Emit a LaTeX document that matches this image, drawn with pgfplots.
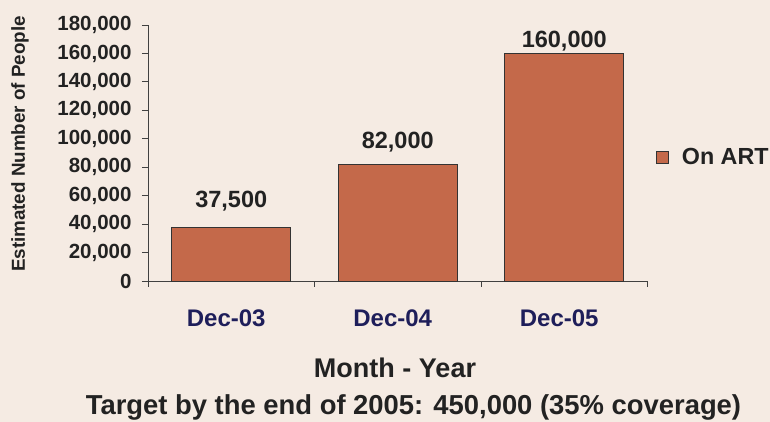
\documentclass[border=0pt]{standalone}
\usepackage{pgfplots}
\pgfplotsset{compat=1.18}
\usepackage{fontspec}
\setmainfont{Liberation Sans}
\definecolor{bgc}{HTML}{F5EBE3}
\definecolor{barc}{HTML}{C4694A}
\definecolor{navyc}{HTML}{1E1E5A}
\definecolor{txtc}{HTML}{222222}
\begin{document}
\begin{tikzpicture}
\fill[bgc] (-148pt,-141pt) rectangle (622pt,281pt);
\path[use as bounding box] (-148pt,-141pt) rectangle (622pt,281pt);
\begin{axis}[
  at={(0,0)}, anchor=south west,
  scale only axis, width=499.5pt, height=256pt,
  xmin=-0.5, xmax=2.5, ymin=0, ymax=180000,
  axis x line=bottom, axis y line=left,
  axis line style={-, draw=black!75, line width=0.8pt},
  xtick={0,1,2}, xticklabels={Dec-03,Dec-04,Dec-05},
  major x tick style={draw=none},
  minor xtick={-0.5,0.5,1.5,2.5},
  minor tick length=6pt,
  tick align=outside,
  major tick length=6pt,
  tick style={draw=black!75, line width=0.8pt},
  ytick={0,20000,...,180000},
  scaled y ticks=false,
  yticklabels={0,{20,000},{40,000},{60,000},{80,000},{100,000},{120,000},{140,000},{160,000},{180,000}},
  yticklabel style={font=\fontsize{20.5}{24}\selectfont\bfseries, text=txtc, xshift=-7pt},
  xticklabel style={font=\fontsize{24}{28}\selectfont\bfseries, text=navyc, yshift=-19pt, xshift=-5pt},
  ybar, bar width=119pt, bar shift=0pt,
  point meta=explicit symbolic,
  nodes near coords,
  nodes near coords style={font=\fontsize{23.5}{28}\selectfont\bfseries, text=txtc, anchor=center},
  legend style={at={(1.017,0.484)}, anchor=west, draw=none, fill=none, inner sep=0pt, font=\fontsize{23.3}{28}\selectfont\bfseries, text=txtc},
  legend image code/.code={\draw[fill=barc, draw=black!80, line width=0.7pt] (0pt,-6pt) rectangle (12pt,6pt); \path (23pt,0pt);},
  clip=false,
]
\addplot[fill=barc, draw=black!80, line width=0.7pt, nodes near coords style={yshift=27pt}] coordinates {(0,37500) [{37,500}]};
\addlegendentry{On ART}
\addplot[fill=barc, draw=black!80, line width=0.7pt, nodes near coords style={yshift=22pt}, forget plot] coordinates {(1,82000) [{82,000}]};
\addplot[fill=barc, draw=black!80, line width=0.7pt, nodes near coords style={yshift=12pt}, forget plot] coordinates {(2,160000) [{160,000}]};
\end{axis}
\node[rotate=90, font=\fontsize{18.8}{22}\selectfont\bfseries, text=txtc] at (-128pt,137pt) {Estimated Number of People};
\node[font=\fontsize{27}{32}\selectfont\bfseries, text=txtc] at (247pt,-86.5pt) {Month - Year};
\node[font=\fontsize{27.4}{32}\selectfont\bfseries, text=txtc] at (265.5pt,-126.5pt) {Target by the end of 2005: 450,000 (35\% coverage)};
\end{tikzpicture}
\end{document}
